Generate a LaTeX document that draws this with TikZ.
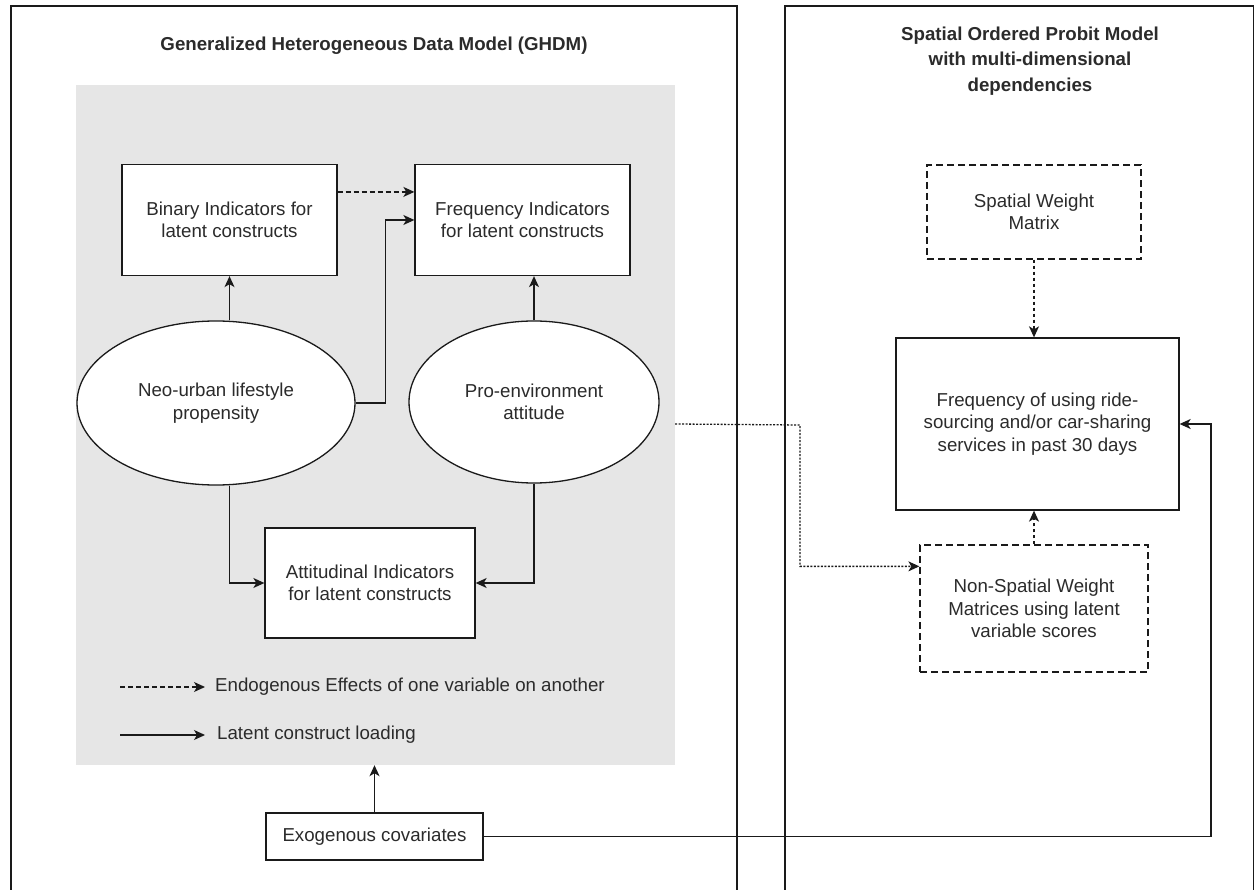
\documentclass[tikz,border=0pt]{standalone}
\usepackage{fontspec}
\setmainfont{Liberation Sans}
\usetikzlibrary{arrows.meta,calc,shapes.geometric}
\definecolor{ln}{HTML}{1A1A1A}
\definecolor{tx}{HTML}{2B2B2B}
\definecolor{gbg}{HTML}{E6E6E6}
\tikzset{
 txt/.style={font=\fontsize{18.7}{22.4}\selectfont, text=tx, align=center},
 ttl/.style={font=\fontsize{18.7}{25.5}\selectfont\bfseries, text=tx, align=center},
 box/.style={txt, draw=ln, line width=1.3pt, fill=white, inner sep=0pt},
 dbox/.style={box, dash pattern=on 7pt off 4pt},
 oval/.style={txt, ellipse, draw=ln, line width=1.3pt, fill=white, inner sep=0pt},
 conn/.style={draw=ln, line width=1.3pt, -{Stealth[length=11pt,width=10pt,inset=3pt]}},
 dconn/.style={conn, dash pattern=on 5pt off 3pt},
 dotconn/.style={conn, dash pattern=on 2pt off 1.5pt},
 sdotconn/.style={conn, dash pattern=on 3pt off 3pt},
 frame/.style={draw=ln, line width=1.3pt},
}
\begin{document}
\begin{tikzpicture}[x=1pt,y=-1pt]
\useasboundingbox (0,0) rectangle (1254,890);
\fill[white] (0,0) rectangle (1254,890);
% panels
\draw[frame] (11,900) -- (11,6) -- (737,6) -- (737,900);
\draw[frame] (785,900) -- (785,6) -- (1253.5,6) -- (1253.5,900);
\node[ttl] (t1) at (374,46) {Generalized Heterogeneous Data Model (GHDM)};
\node[ttl] (t2) at (1030,61) {Spatial Ordered Probit Model\\with multi-dimensional\\dependencies};
% grey area
\node[fill=gbg, draw=none, minimum width=599pt, minimum height=680pt, inner sep=0pt] (ghdm) at (375.5,425) {};
% left nodes
\node[box, minimum width=215pt, minimum height=111pt] (bin) at (229.5,220) {Binary Indicators for\\latent constructs};
\node[box, minimum width=215pt, minimum height=111pt] (freq) at (522.5,220) {Frequency Indicators\\for latent constructs};
\node[oval, minimum width=278pt, minimum height=164pt] (neo) at (216,403) {Neo-urban lifestyle\\propensity};
\node[oval, minimum width=250pt, minimum height=162pt] (pro) at (534,402) {Pro-environment\\attitude};
\node[box, minimum width=210pt, minimum height=110pt] (att) at (370,583) {Attitudinal Indicators\\for latent constructs};
\node[box, minimum width=217pt, minimum height=47pt] (exo) at (374.5,836.5) {Exogenous covariates};
% legend
\coordinate (l1a) at (120,687);
\coordinate (l1b) at (205,687);
\coordinate (l2a) at (120,735);
\coordinate (l2b) at (205,735);
\draw[dconn] (l1a) -- (l1b);
\draw[conn] (l2a) -- (l2b);
\node[txt, anchor=west, inner sep=0pt] (lt1) at (215,687) {Endogenous Effects of one variable on another};
\node[txt, anchor=west, inner sep=0pt] (lt2) at (217,735) {Latent construct loading};
% right nodes
\node[dbox, minimum width=214pt, minimum height=94pt] (sw) at (1034,212) {Spatial Weight\\Matrix};
\node[box, minimum width=283pt, minimum height=172pt] (fr) at (1037.5,424) {Frequency of using ride-\\sourcing and/or car-sharing\\services in past 30 days};
\node[dbox, minimum width=228pt, minimum height=127pt] (ns) at (1034,608.5) {Non-Spatial Weight\\Matrices using latent\\variable scores};
% connectors left
\draw[conn] (bin.south |- neo.north) -- (bin.south);
\draw[conn] (pro.north) -- (pro.north |- freq.south);
\draw[dconn] ($(bin.north east)!0.25!(bin.south east)$) -- ($(freq.north west)!0.25!(freq.south west)$);
\draw[conn] (neo.east) -- ++(30,0) |- (freq.west);
\draw[conn] (bin.south |- neo.south) |- (att.west);
\draw[conn] (pro.south) |- (att.east);
\draw[conn] (exo.north) -- (exo.north |- ghdm.south);
% connectors right
\coordinate (exoturn) at (1211,600);
\draw[conn] (exo.east) -| (exoturn) |- (fr.east);
\draw[sdotconn] (sw.south) -- (sw.south |- fr.north);
\draw[sdotconn] (ns.north) -- (ns.north |- fr.south);
\coordinate (dstart) at (ghdm.east |- fr.east);
\draw[dotconn] (dstart) -- (800,425) |- ($(ns.north west)+(0,22)$);
\end{tikzpicture}
\end{document}
